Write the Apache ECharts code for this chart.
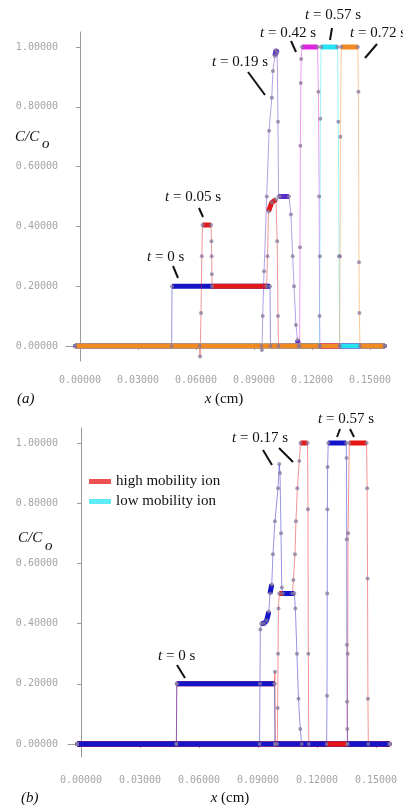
<!DOCTYPE html>
<html>
<head>
<meta charset="utf-8">
<script src="https://cdn.jsdelivr.net/npm/echarts@6/dist/echarts.min.js"></script>
<style>
html, body { margin: 0; padding: 0; background: #fff; }
#main { width: 403px; height: 806px; }
</style>
</head>
<body>
<div id="main"></div>
<script>
// 刻度
var xTicks = [0, 0.03, 0.06, 0.09, 0.12, 0.15];
var yTicks = [0, 0.2, 0.4, 0.6, 0.8, 1.0];

// (a) 各时刻的浓度曲线 [x (cm), C/Co]
var aT0 = [[-0.0026, 0], [0.0474, 0], [0.0476, 0.2], [0.0983, 0.2], [0.0985, 0], [0.1577, 0]];
var aT005 = [[-0.0026, 0], [0.0619, 0], [0.0621, -0.035], [0.0626, 0.11], [0.0630, 0.3], [0.0634, 0.405],
    [0.0678, 0.405], [0.0680, 0.35], [0.0681, 0.3], [0.0682, 0.24], [0.0683, 0.2], [0.0965, 0.2],
    [0.0970, 0.3], [0.0975, 0.45], [0.0992, 0.48], [0.1014, 0.49], [0.1020, 0.35], [0.1024, 0.1],
    [0.1027, 0], [0.1577, 0]];
var aT019 = [[-0.0026, 0], [0.0938, 0], [0.0941, -0.013], [0.0945, 0.1], [0.0952, 0.25], [0.0966, 0.5],
    [0.0978, 0.72], [0.0992, 0.83], [0.0998, 0.92], [0.1008, 0.97], [0.1014, 0.99], [0.1020, 0.98],
    [0.1024, 0.75], [0.1027, 0.5], [0.1034, 0.5], [0.1081, 0.5], [0.1091, 0.44], [0.1100, 0.3],
    [0.1107, 0.2], [0.1117, 0.07], [0.1125, 0.02], [0.1130, 0], [0.1577, 0]];
var aT042 = [[-0.0026, 0], [0.1136, 0], [0.1138, 0.33], [0.1140, 0.67], [0.1142, 0.88], [0.1144, 0.96],
    [0.1148, 1.0], [0.1229, 1.0], [0.1233, 0.85], [0.1237, 0.5], [0.1239, 0.1], [0.1241, 0], [0.1577, 0]];
var aT057 = [[-0.0026, 0], [0.1239, 0], [0.1241, 0.3], [0.1243, 0.76], [0.1247, 1.0], [0.1332, 1.0],
    [0.1336, 0.75], [0.1340, 0.3], [0.1343, 0], [0.1577, 0]];
var aT072 = [[-0.0026, 0], [0.1343, 0], [0.1345, 0.3], [0.1347, 0.7], [0.1351, 1.0], [0.1437, 1.0],
    [0.1440, 0.85], [0.1443, 0.28], [0.1445, 0.11], [0.1448, 0], [0.1577, 0]];

// (b) 高/低迁移率离子
var bLowT0 = [[-0.002, 0], [0.0485, 0], [0.0487, 0.2], [0.0984, 0.2], [0.0986, 0], [0.157, 0]];
var bHighT0 = [[-0.002, 0], [0.0485, 0], [0.0487, 0.2], [0.0984, 0.2], [0.0986, 0.24], [0.0988, 0], [0.157, 0]];
var bLowT017 = [[-0.002, 0], [0.0908, 0], [0.0910, 0.2], [0.0912, 0.38], [0.0916, 0.40], [0.0930, 0.40],
    [0.0944, 0.41], [0.0955, 0.44], [0.0961, 0.50], [0.0970, 0.53], [0.0976, 0.63], [0.0986, 0.74],
    [0.1002, 0.85], [0.1008, 0.93], [0.1012, 0.90], [0.1017, 0.7], [0.1021, 0.52], [0.1026, 0.50],
    [0.1085, 0.50], [0.1090, 0.45], [0.1098, 0.3], [0.1106, 0.15], [0.1115, 0.05], [0.1122, 0], [0.157, 0]];
var bHighT017 = [[-0.002, 0], [0.0998, 0], [0.1000, 0.12], [0.1002, 0.3], [0.1004, 0.45], [0.1008, 0.5],
    [0.1075, 0.5], [0.1080, 0.545], [0.1088, 0.63], [0.1093, 0.74], [0.1100, 0.85], [0.1110, 0.94],
    [0.1116, 1.0], [0.1152, 1.0], [0.1154, 0.78], [0.1156, 0.3], [0.1158, 0], [0.157, 0]];
var bLowT057 = [[-0.002, 0], [0.1249, 0], [0.1251, 0.16], [0.1252, 0.5], [0.1253, 0.78], [0.1254, 0.92],
    [0.1257, 1.0], [0.1349, 1.0], [0.1350, 0.95], [0.1351, 0.68], [0.1352, 0.33], [0.1353, 0.14],
    [0.1354, 0.05], [0.1356, 0], [0.157, 0]];
var bHighT057 = [[-0.002, 0], [0.1354, 0], [0.1356, 0.3], [0.1358, 0.7], [0.1364, 1.0], [0.1452, 1.0],
    [0.1455, 0.85], [0.1457, 0.55], [0.1459, 0.15], [0.1461, 0], [0.157, 0]];

var aCurves = [aT0, aT005, aT019, aT042, aT057, aT072];
var aNames = ['t = 0 s', 't = 0.05 s', 't = 0.19 s', 't = 0.42 s', 't = 0.57 s', 't = 0.72 s'];
var aColors = ['#1414c4', '#e01a1a', '#5a2cc8', '#e024e0', '#26e2f2', '#f28a22'];

var bCurves = [bHighT0, bLowT0, bHighT017, bLowT017, bHighT057, bLowT057];
var bNames = ['high mobility ion', 'low mobility ion', 'high mobility ion', 'low mobility ion', 'high mobility ion', 'low mobility ion'];
var bColors = ['#e81414', '#1414c8', '#e81414', '#1414c8', '#e81414', '#1414c8'];

var chart = echarts.init(document.getElementById('main'));

// 平缓段（密集的点连成粗线）
function flatParts(pts) {
    var out = [];
    var inFlat = false;
    for (var i = 0; i < pts.length - 1; i++) {
        var p = pts[i], q = pts[i + 1];
        var slope = Math.abs((q[1] - p[1]) / (q[0] - p[0]));
        if (slope < 40) {
            if (!inFlat) out.push(p);
            out.push(q);
            inFlat = true;
        } else if (inFlat) {
            out.push([p[0], '-']);
            inFlat = false;
        }
    }
    return out;
}

var series = [];
function addCurve(pts, color, name, idx) {
    series.push({
        type: 'line', name: name, xAxisIndex: idx, yAxisIndex: idx,
        data: pts, symbol: 'circle', symbolSize: 4, showAllSymbol: true,
        lineStyle: { color: color, width: 1, opacity: 0.45 },
        itemStyle: { color: '#85779c', opacity: 0.75 },
        silent: true
    });
    series.push({
        type: 'line', name: name, xAxisIndex: idx, yAxisIndex: idx,
        data: flatParts(pts), showSymbol: false, connectNulls: false,
        lineStyle: { color: color, width: 5 },
        itemStyle: { color: color },
        silent: true
    });
}
aCurves.forEach(function (c, i) { addCurve(c, aColors[i], aNames[i], 0); });
bCurves.forEach(function (c, i) { addCurve(c, bColors[i], bNames[i], 1); });

function fmt(v) { return v.toFixed(5); }

function makeX(idx, min, max, margin) {
    return {
        type: 'value', gridIndex: idx, min: min, max: max,
        splitLine: { show: false },
        axisLine: { lineStyle: { color: '#9a9a9a' } },
        axisTick: { customValues: xTicks, length: 4, lineStyle: { color: '#9a9a9a' } },
        axisLabel: { customValues: xTicks, formatter: fmt, margin: margin, color: '#a4a4a4',
            fontFamily: 'DejaVu Sans Mono', fontSize: 10 }
    };
}
function makeY(idx, min, max, margin) {
    return {
        type: 'value', gridIndex: idx, min: min, max: max,
        splitLine: { show: false },
        axisLine: { show: true, lineStyle: { color: '#9a9a9a' } },
        axisTick: { show: true, customValues: yTicks, length: 4, lineStyle: { color: '#9a9a9a' } },
        axisLabel: { customValues: yTicks, formatter: fmt, margin: margin, color: '#a4a4a4',
            fontFamily: 'DejaVu Sans Mono', fontSize: 10 }
    };
}

var serif = 'Liberation Serif';
var rich = { i: { fontStyle: 'italic', fontFamily: serif, fontSize: 15, fill: '#111' } };
function label(x, y, txt, align) {
    return {
        type: 'text', x: x, y: y, silent: true,
        style: { text: txt, rich: rich, fontFamily: serif, fontSize: 15, fill: '#111',
            align: align || 'left', verticalAlign: 'middle' }
    };
}
function lead(x1, y1, x2, y2) {
    return {
        type: 'line', silent: true,
        shape: { x1: x1, y1: y1, x2: x2, y2: y2 },
        style: { stroke: '#111', lineWidth: 2 }
    };
}

var graphic = [
    label(147, 257, '{i|t} = 0 s'), lead(173, 266, 178, 278),
    label(165, 197, '{i|t} = 0.05 s'), lead(199, 208, 203, 217),
    label(212, 62, '{i|t} = 0.19 s'), lead(248, 72, 265, 95),
    label(260, 33, '{i|t} = 0.42 s'), lead(291, 41, 296, 52),
    label(305, 15, '{i|t} = 0.57 s'), lead(332, 28, 330, 40),
    label(350, 33, '{i|t} = 0.72 s'), lead(377, 44, 365, 58),
    label(15, 137, '{i|C/C}'), label(42, 144, '{i|o}'),
    label(17, 399, '{i|(a)}'), label(224, 399, '{i|x} (cm)', 'center'),

    label(158, 656, '{i|t} = 0 s'), lead(177, 665, 185, 678),
    label(232, 438, '{i|t} = 0.17 s'), lead(263, 450, 272, 465), lead(279, 448, 293, 462),
    label(318, 419, '{i|t} = 0.57 s'), lead(340, 429, 337, 437), lead(350, 429, 354, 437),
    label(18, 538, '{i|C/C}'), label(45, 546, '{i|o}'),
    label(21, 798, '{i|(b)}'), label(230, 798, '{i|x} (cm)', 'center')
];

var option = {
    animation: false,
    backgroundColor: '#fff',
    grid: [
        { left: 66, top: 32, width: 319, height: 329 },
        { left: 68, top: 428, width: 322, height: 329 }
    ],
    xAxis: [makeX(0, -0.00724, 0.15776, 14), makeX(1, -0.00661, 0.15712, 18)],
    yAxis: [makeY(0, -0.0502, 1.0502, 8), makeY(1, -0.0432, 1.0498, 10)],
    legend: {
        orient: 'vertical', left: 84, top: 469, itemGap: 5,
        icon: 'rect', itemWidth: 22, itemHeight: 5, selectedMode: false,
        textStyle: { fontFamily: serif, fontSize: 15, color: '#111', lineHeight: 15 },
        data: [
            { name: 'high mobility ion', itemStyle: { color: '#e81414' } },
            { name: 'low mobility ion', itemStyle: { color: '#26e6f2' } }
        ]
    },
    graphic: graphic,
    series: series
};

chart.setOption(option);
</script>
</body>
</html>
